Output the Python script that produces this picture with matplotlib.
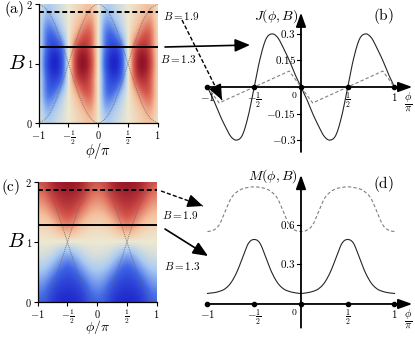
import numpy as np
import matplotlib
matplotlib.use("Agg")
import matplotlib.pyplot as plt
from matplotlib.colors import LinearSegmentedColormap
from matplotlib.patches import FancyArrowPatch
from matplotlib.lines import Line2D

plt.rcParams['mathtext.fontset'] = 'cm'
plt.rcParams['font.family'] = 'serif'

# ---------------- data ----------------
# heatmap grid: phi from -1 to 1 step 1/8 (17 columns), B from 0 to 2 step 1/4 (9 rows)
phi_grid = [-1, -0.875, -0.75, -0.625, -0.5, -0.375, -0.25, -0.125, 0,
            0.125, 0.25, 0.375, 0.5, 0.625, 0.75, 0.875, 1]
B_grid = [0, 0.25, 0.5, 0.75, 1.0, 1.25, 1.5, 1.75, 2.0]

J_B000 = [0, -0.08, -0.05, -0.025, 0, 0.025, 0.05, 0.08, 0, -0.08, -0.05, -0.025, 0, 0.025, 0.05, 0.08, 0]
J_B025 = [0, -0.15, -0.08, -0.04, 0, 0.04, 0.08, 0.15, 0, -0.15, -0.08, -0.04, 0, 0.04, 0.08, 0.15, 0]
J_B050 = [0, -0.24, -0.22, -0.08, 0, 0.08, 0.22, 0.24, 0, -0.24, -0.22, -0.08, 0, 0.08, 0.22, 0.24, 0]
J_B075 = [0, -0.22, -0.32, -0.27, 0, 0.27, 0.32, 0.22, 0, -0.22, -0.32, -0.27, 0, 0.27, 0.32, 0.22, 0]
J_B100 = [0, -0.30, -0.40, -0.33, 0, 0.33, 0.40, 0.30, 0, -0.30, -0.40, -0.33, 0, 0.33, 0.40, 0.30, 0]
J_B125 = [0, -0.22, -0.32, -0.27, 0, 0.27, 0.32, 0.22, 0, -0.22, -0.32, -0.27, 0, 0.27, 0.32, 0.22, 0]
J_B150 = [0, -0.24, -0.22, -0.08, 0, 0.08, 0.22, 0.24, 0, -0.24, -0.22, -0.08, 0, 0.08, 0.22, 0.24, 0]
J_B175 = [0, -0.15, -0.08, -0.04, 0, 0.04, 0.08, 0.15, 0, -0.15, -0.08, -0.04, 0, 0.04, 0.08, 0.15, 0]
J_B200 = [0, -0.08, -0.05, -0.025, 0, 0.025, 0.05, 0.08, 0, -0.08, -0.05, -0.025, 0, 0.025, 0.05, 0.08, 0]

M_B000 = [-0.62, -0.68, -0.88, -0.94, -0.96, -0.94, -0.88, -0.68, -0.62, -0.68, -0.88, -0.94, -0.96, -0.94, -0.88, -0.68, -0.62]
M_B025 = [-0.44, -0.52, -0.74, -0.84, -0.86, -0.84, -0.74, -0.52, -0.44, -0.52, -0.74, -0.84, -0.86, -0.84, -0.74, -0.52, -0.44]
M_B050 = [-0.24, -0.28, -0.44, -0.64, -0.72, -0.64, -0.44, -0.28, -0.24, -0.28, -0.44, -0.64, -0.72, -0.64, -0.44, -0.28, -0.24]
M_B075 = [-0.07, -0.09, -0.15, -0.32, -0.46, -0.32, -0.15, -0.09, -0.07, -0.09, -0.15, -0.32, -0.46, -0.32, -0.15, -0.09, -0.07]
M_B100 = [0.0] * 17
M_B125 = [0.07, 0.09, 0.15, 0.32, 0.46, 0.32, 0.15, 0.09, 0.07, 0.09, 0.15, 0.32, 0.46, 0.32, 0.15, 0.09, 0.07]
M_B150 = [0.24, 0.28, 0.44, 0.64, 0.72, 0.64, 0.44, 0.28, 0.24, 0.28, 0.44, 0.64, 0.72, 0.64, 0.44, 0.28, 0.24]
M_B175 = [0.44, 0.52, 0.74, 0.84, 0.86, 0.84, 0.74, 0.52, 0.44, 0.52, 0.74, 0.84, 0.86, 0.84, 0.74, 0.52, 0.44]
M_B200 = [0.62, 0.68, 0.88, 0.94, 0.96, 0.94, 0.88, 0.68, 0.62, 0.68, 0.88, 0.94, 0.96, 0.94, 0.88, 0.68, 0.62]

# dotted boundary curves in the heatmaps
phi_arc = phi_grid
B_arc_up = [0, 0.08, 0.29, 0.62, 1.0, 1.38, 1.71, 1.92, 2.0, 1.92, 1.71, 1.38, 1.0, 0.62, 0.29, 0.08, 0]
B_arc_down = [2.0, 1.92, 1.71, 1.38, 1.0, 0.62, 0.29, 0.08, 0, 0.08, 0.29, 0.62, 1.0, 1.38, 1.71, 1.92, 2.0]

# cut lines
B_solid_line = 1.28
B_dashed_line = 1.87

# panel (b): J(phi, B) curves
phi_fine = [-1, -0.9375, -0.875, -0.8125, -0.75, -0.6875, -0.625, -0.5625, -0.5,
            -0.4375, -0.375, -0.3125, -0.25, -0.1875, -0.125, -0.0625, 0,
            0.0625, 0.125, 0.1875, 0.25, 0.3125, 0.375, 0.4375, 0.5,
            0.5625, 0.625, 0.6875, 0.75, 0.8125, 0.875, 0.9375, 1]
J_B13 = [0, -0.07, -0.15, -0.22, -0.28, -0.30, -0.27, -0.16, 0,
         0.16, 0.27, 0.30, 0.28, 0.22, 0.15, 0.07, 0,
         -0.07, -0.15, -0.22, -0.28, -0.30, -0.27, -0.16, 0,
         0.16, 0.27, 0.30, 0.28, 0.22, 0.15, 0.07, 0]
phi_J19 = [-1, -0.875, -0.125, 0, 0.125, 0.875, 1]
J_B19 = [0, -0.09, 0.09, 0, -0.09, 0.09, 0]

# panel (d): M(phi, B) curves
M_B13 = [0.08, 0.085, 0.095, 0.115, 0.16, 0.24, 0.35, 0.46, 0.49,
         0.46, 0.35, 0.24, 0.16, 0.115, 0.095, 0.085, 0.08,
         0.085, 0.095, 0.115, 0.16, 0.24, 0.35, 0.46, 0.49,
         0.46, 0.35, 0.24, 0.16, 0.115, 0.095, 0.085, 0.08]
M_B19 = [0.55, 0.56, 0.60, 0.70, 0.80, 0.85, 0.875, 0.885, 0.89,
         0.885, 0.875, 0.85, 0.80, 0.70, 0.60, 0.56, 0.55,
         0.56, 0.60, 0.70, 0.80, 0.85, 0.875, 0.885, 0.89,
         0.885, 0.875, 0.85, 0.80, 0.70, 0.60, 0.56, 0.55]

phi_ticks = [-1, -0.5, 0, 0.5, 1]
phi_tick_labels = [r'$-1$', r'$-\frac{1}{2}$', r'$0$', r'$\frac{1}{2}$', r'$1$']
B_ticks = [0, 1, 2]
B_tick_labels = [r'$0$', r'$1$', r'$2$']
J_ticks = [0.3, 0.15, -0.15, -0.3]
J_tick_labels = [r'$0.3$', r'$0.15$', r'$-0.15$', r'$-0.3$']
M_ticks = [0.3, 0.6]
M_tick_labels = [r'$0.3$', r'$0.6$']

# ---------------- helpers ----------------
def smooth(x, y, n=8):
    P = np.column_stack([np.asarray(x, float), np.asarray(y, float)])
    P = np.vstack([2 * P[0] - P[1], P, 2 * P[-1] - P[-2]])
    t = np.linspace(0, 1, n, endpoint=False)[:, None]
    out = []
    for i in range(1, len(P) - 2):
        p0, p1, p2, p3 = P[i - 1], P[i], P[i + 1], P[i + 2]
        out.append(0.5 * (2 * p1 + (-p0 + p2) * t + (2 * p0 - 5 * p1 + 4 * p2 - p3) * t ** 2
                          + (-p0 + 3 * p1 - 3 * p2 + p3) * t ** 3))
    out.append(P[-2][None, :])
    s = np.vstack(out)
    return s[:, 0], s[:, 1]

cmap = LinearSegmentedColormap.from_list('bwr_custom', [
    (0.00, (0.10, 0.12, 0.78)),
    (0.20, (0.25, 0.40, 0.90)),
    (0.38, (0.66, 0.79, 0.95)),
    (0.50, (0.93, 0.91, 0.82)),
    (0.62, (0.96, 0.74, 0.60)),
    (0.80, (0.84, 0.34, 0.30)),
    (1.00, (0.55, 0.05, 0.13)),
])

W, H = 415, 337
fig = plt.figure(figsize=(W / 100, H / 100), dpi=100)

def rect(l, t, r, b):
    return [l / W, 1 - b / H, (r - l) / W, (b - t) / H]

def heat(ax, grid, vmin, vmax):
    ax.imshow(np.array(grid), origin='lower', cmap=cmap, vmin=vmin, vmax=vmax,
              extent=[phi_grid[0] - 0.0625, phi_grid[-1] + 0.0625, B_grid[0] - 0.125, B_grid[-1] + 0.125],
              interpolation='bicubic', aspect='auto')
    for arc in (B_arc_up, B_arc_down):
        xs, ys = smooth(phi_arc, arc)
        ax.plot(xs, ys, color='0.4', lw=0.7, ls=(0, (1, 1)), alpha=0.8)
    ax.axhline(B_solid_line, color='k', lw=1.4)
    ax.axhline(B_dashed_line, color='k', lw=1.4, ls=(0, (2.5, 1.5)))
    ax.set_xlim(-1, 1)
    ax.set_ylim(0, 2)
    ax.set_xticks(phi_ticks)
    ax.set_xticklabels(phi_tick_labels, fontsize=7.5)
    ax.set_yticks(B_ticks)
    ax.set_yticklabels(B_tick_labels, fontsize=7.5)
    ax.tick_params(direction='out', length=3, width=0.8, pad=1.0)
    for s in ('top', 'right'):
        ax.spines[s].set_visible(False)
    for s in ('left', 'bottom'):
        ax.spines[s].set_linewidth(0.9)
    ax.set_ylabel(r'$B$', rotation=0, fontsize=15, va='center', ha='center')
    ax.yaxis.set_label_coords(-0.18, 0.5)

def cross_axes(ax, ylo, yhi, yticks, ylabels, ylab, ylab_y):
    ax.axis('off')
    ax.annotate('', xy=(1.19, 0), xytext=(-1, 0),
                arrowprops=dict(arrowstyle='-|>,head_length=0.7,head_width=0.25', lw=1.3,
                                color='k', mutation_scale=12, shrinkA=0, shrinkB=0))
    ax.annotate('', xy=(0, yhi), xytext=(0, ylo),
                arrowprops=dict(arrowstyle='-|>,head_length=0.7,head_width=0.25', lw=1.3,
                                color='k', mutation_scale=12, shrinkA=0, shrinkB=0))
    ax.plot(phi_ticks, [0] * len(phi_ticks), 'o', color='k', ms=3, zorder=5)
    (x0, x1), (y0, y1) = ax.get_xlim(), ax.get_ylim()
    dy = (y1 - y0) / (ax.get_position().height * H)  # data per pixel
    dx = (x1 - x0) / (ax.get_position().width * W)
    for t, lab in zip(phi_ticks, phi_tick_labels):
        if t == 0:
            ax.text(-4 * dx, -3 * dy, lab, fontsize=7, ha='right', va='top')
        else:
            ax.text(t, -4 * dy, lab, fontsize=8, ha='center', va='top')
    for t, lab in zip(yticks, ylabels):
        ax.plot([-4 * dx, 0], [t, t], color='k', lw=0.8)
        ax.text(-5 * dx, t, lab, fontsize=8, ha='right', va='center')
    ax.text(1.145, -3 * dy, r'$\frac{\phi}{\pi}$', fontsize=11, ha='center', va='top')
    ax.text(-3 * dx, ylab_y, ylab, fontsize=10, ha='right', va='center')

# ---------------- panels ----------------
ax_a = fig.add_axes(rect(38.7, 4, 157.7, 123))
heat(ax_a, [J_B000, J_B025, J_B050, J_B075, J_B100, J_B125, J_B150, J_B175, J_B200], -0.36, 0.36)
ax_a.set_xlabel(r'$\phi/\pi$', fontsize=10.5, va='top')
ax_a.xaxis.set_label_coords(0.5, -0.15)

ax_c = fig.add_axes(rect(37.7, 182, 156.7, 302))
heat(ax_c, [M_B000, M_B025, M_B050, M_B075, M_B100, M_B125, M_B150, M_B175, M_B200], -1, 1)
ax_c.set_xlabel(r'$\phi/\pi$', fontsize=10, va='bottom')
ax_c.xaxis.set_label_coords(0.5, -0.285)

ax_b = fig.add_axes(rect(202.8, 7.35, 413.2, 157.8))
ax_b.set_xlim(-1.05, 1.2)
ax_b.set_ylim(-0.4, 0.45)
xs, ys = smooth(phi_fine, J_B13)
ax_b.plot(xs, ys, color='0.15', lw=0.8)
ax_b.plot(phi_J19, J_B19, color='0.5', lw=0.8, ls=(0, (3, 2)))
cross_axes(ax_b, -0.367, 0.42, J_ticks, J_tick_labels, r'$J(\phi,B)$', 0.4)
ax_b.text(0.88, 0.4, r'$\mathrm{(b)}$', fontsize=11, ha='center', va='center')

ax_d = fig.add_axes(rect(202.8, 172.3, 413.2, 336.9))
ax_d.set_xlim(-1.05, 1.2)
ax_d.set_ylim(-0.25, 1.0)
xs, ys = smooth(phi_fine, M_B13)
ax_d.plot(xs, ys, color='0.15', lw=0.8)
xs, ys = smooth(phi_fine, M_B19)
ax_d.plot(xs, ys, color='0.5', lw=0.8, ls=(0, (3, 2)))
cross_axes(ax_d, -0.18, 0.98, M_ticks, M_tick_labels, r'$M(\phi,B)$', 0.97)
ax_d.text(0.88, 0.91, r'$\mathrm{(d)}$', fontsize=11, ha='center', va='center')

# ---------------- panel letters, connecting arrows ----------------
def ftext(x, y, s, size):
    fig.text(x / W, 1 - y / H, s, fontsize=size, ha='center', va='center')

ftext(14, 9, r'$\mathrm{(a)}$', 11)
ftext(11, 187, r'$\mathrm{(c)}$', 11)
ftext(181, 16, r'$B=1.9$', 8)
ftext(178, 59, r'$B=1.3$', 8)
ftext(180, 215, r'$B=1.9$', 8)
ftext(182, 266, r'$B=1.3$', 8)

def farrow(p0, p1, dashed=False):
    f = lambda p: (p[0] / W, 1 - p[1] / H)
    if dashed:
        fig.add_artist(Line2D([p0[0] / W, p1[0] / W], [1 - p0[1] / H, 1 - p1[1] / H],
                              transform=fig.transFigure, color='k', lw=1.0, ls=(0, (3, 1.5))))
        v = np.array(p1, float) - np.array(p0, float)
        v = v / np.hypot(*v)
        p0 = tuple(np.array(p1) - 10 * v)
    fig.add_artist(FancyArrowPatch(f(p0), f(p1), transform=fig.transFigure,
                                   arrowstyle='-|>,head_length=0.7,head_width=0.3',
                                   mutation_scale=13, lw=1.2, color='k',
                                   shrinkA=0, shrinkB=0))

farrow((165, 47), (250, 45))
farrow((182, 20), (222, 100), dashed=True)
farrow((161, 191), (203, 206), dashed=True)
farrow((165, 229), (208, 256))

fig.savefig('out.png', dpi=100)
